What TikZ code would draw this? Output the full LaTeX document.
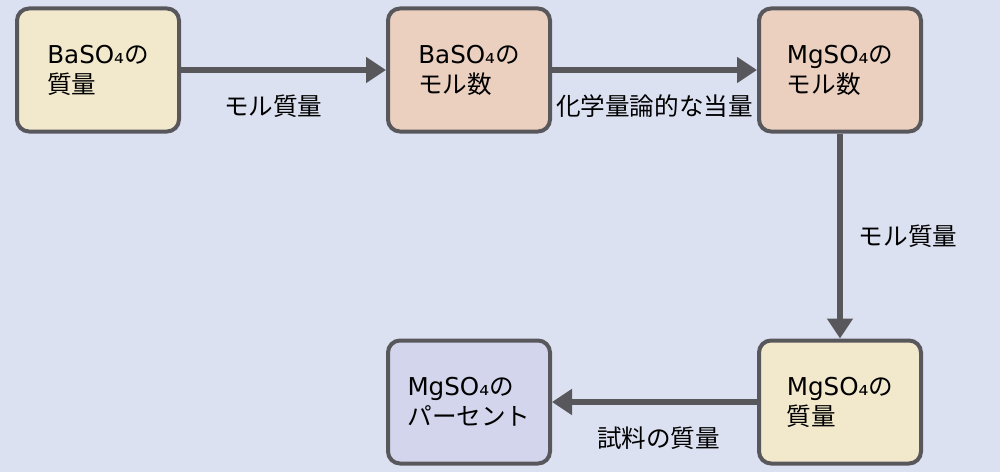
\documentclass[tikz,border=0pt]{standalone}
\usepackage{fontspec}
\setmainfont{DejaVu Sans}
\newfontfamily\jp{Noto Sans CJK JP}
\usetikzlibrary{arrows.meta,positioning}

\definecolor{bgblue}{RGB}{220,225,241}
\definecolor{edgegray}{RGB}{88,88,92}
\definecolor{massfill}{RGB}{242,233,205}
\definecolor{molfill}{RGB}{235,208,192}
\definecolor{pctfill}{RGB}{211,213,236}

\begin{document}
\begin{tikzpicture}[->,>={Triangle[length=0.4cm,width=0.5cm]},auto,node distance=4.1cm,
  line width=0.12cm,draw=edgegray,
  box/.style={rectangle,rounded corners=0.24cm,draw=edgegray,line width=0.08cm,
    minimum width=3.24cm,minimum height=2.46cm,align=left,
    font=\fontsize{14}{17}\selectfont}]

  \fill[-,bgblue] (0,0) rectangle (20,-9.44);

  \node[box,fill=massfill] (BaMass) at (1.96,-1.40) {BaSO₄{\jp の}\\{\jp 質量}};
  \node[box,fill=molfill] (BaMol) [right=of BaMass] {BaSO₄{\jp の}\\{\jp モル数}};
  \node[box,fill=molfill] (MgMol) [right=of BaMol] {MgSO₄{\jp の}\\{\jp モル数}};
  \node[box,fill=massfill] (MgMass) [below=of MgMol] {MgSO₄{\jp の}\\{\jp 質量}};
  \node[box,fill=pctfill] (MgPct) [left=of MgMass] {MgSO₄{\jp の}\\{\jp パーセント}};

  \path[every node/.style={font=\jp\fontsize{14}{17}\selectfont,text=black}]
    (BaMass) edge node [below=0.32cm,pos=0.45] {モル質量} (BaMol)
    (BaMol) edge node [below=0.32cm] {化学量論的な当量} (MgMol)
    (MgMol) edge node [right=0.2cm] {モル質量} (MgMass)
    (MgMass) edge node [below=0.32cm,pos=0.48] {試料の質量} (MgPct);
\end{tikzpicture}
\end{document}
